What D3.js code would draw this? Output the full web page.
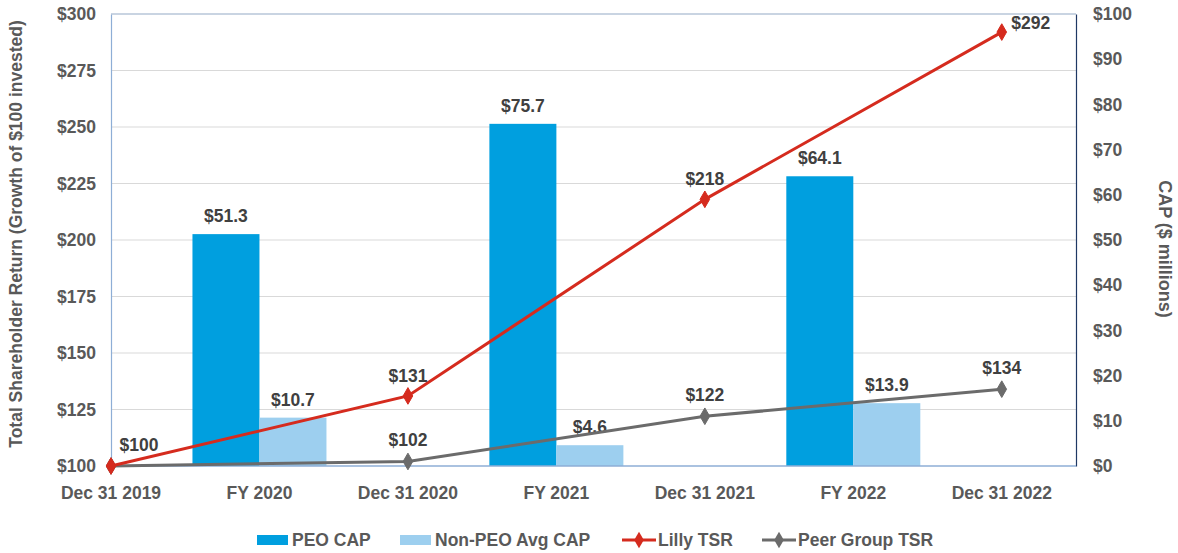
<!DOCTYPE html>
<html>
<head>
<meta charset="utf-8">
<script src="https://cdn.jsdelivr.net/npm/d3@7"></script>
<style>
  html, body { margin: 0; padding: 0; background: #fff; }
  svg { display: block; font-family: "Liberation Sans", Arial, sans-serif; }
</style>
</head>
<body>
<svg id="chart" width="1178" height="553"></svg>
<script>
// Category labels along the x axis (period-end dates alternate with fiscal years)
const categories = ["Dec 31 2019", "FY 2020", "Dec 31 2020", "FY 2021", "Dec 31 2021", "FY 2022", "Dec 31 2022"];

// Compensation actually paid, $ millions (plotted on right axis, at fiscal-year slots)
const capYears = ["FY 2020", "FY 2021", "FY 2022"];
const peoCap = [51.3, 75.7, 64.1];
const nonPeoCap = [10.7, 4.6, 13.9];

// Total shareholder return, growth of $100 (plotted on left axis, at year-end slots)
const tsrDates = ["Dec 31 2019", "Dec 31 2020", "Dec 31 2021", "Dec 31 2022"];
const lillyTsr = [100, 131, 218, 292];
const peerTsr = [100, 102, 122, 134];

const leftTicks = [100, 125, 150, 175, 200, 225, 250, 275, 300];
const rightTicks = [0, 10, 20, 30, 40, 50, 60, 70, 80, 90, 100];

const colors = {
  peo: "#009fdf",
  nonPeo: "#9dcfef",
  lilly: "#d52b1e",
  peer: "#6b6b6b",
  text: "#595959",
  label: "#404040"
};
const FS = 17.5;

const svg = d3.select("#chart");
const plot = { left: 111, right: 1076, top: 14, bottom: 466 };

const x = d3.scaleLinear()
  .domain([0, 6.5])
  .range([plot.left, plot.right]);
const xi = name => x(categories.indexOf(name));

const yL = d3.scaleLinear().domain([100, 300]).range([plot.bottom, plot.top]);
const yR = d3.scaleLinear().domain([0, 100]).range([plot.bottom, plot.top]);

// gridlines
svg.append("g")
  .selectAll("line")
  .data(leftTicks.slice(1))
  .join("line")
  .attr("x1", plot.left).attr("x2", plot.right)
  .attr("y1", d => yL(d)).attr("y2", d => yL(d))
  .attr("stroke", "#d9d9d9").attr("stroke-width", 1);

// left axis
const leftAxis = svg.append("g")
  .attr("transform", `translate(${plot.left},0)`)
  .call(d3.axisLeft(yL).tickValues(leftTicks).tickSize(0).tickPadding(15).tickFormat(d => "$" + d));
leftAxis.select(".domain").attr("stroke", "#8eaed6").attr("stroke-width", 1.2);
leftAxis.selectAll("text")
  .attr("fill", colors.text).attr("font-size", FS).attr("font-weight", "bold")
  .attr("font-family", "Liberation Sans, Arial, sans-serif");

// right axis
const rightAxis = svg.append("g")
  .attr("transform", `translate(${plot.right},0)`)
  .call(d3.axisRight(yR).tickValues(rightTicks).tickSize(0).tickPadding(17).tickFormat(d => "$" + d));
rightAxis.select(".domain").attr("stroke", "#1f3864").attr("stroke-width", 1.2);
rightAxis.selectAll("text")
  .attr("fill", colors.text).attr("font-size", FS).attr("font-weight", "bold")
  .attr("font-family", "Liberation Sans, Arial, sans-serif");

// top border
svg.append("line")
  .attr("x1", plot.left).attr("x2", plot.right)
  .attr("y1", plot.top).attr("y2", plot.top)
  .attr("stroke", "#a6bcd8").attr("stroke-width", 1.2);

// bars
const barW = 67;
const bars = svg.append("g");
bars.selectAll("rect.peo")
  .data(capYears)
  .join("rect")
  .attr("class", "peo")
  .attr("x", d => xi(d) - barW)
  .attr("width", barW)
  .attr("y", (d, i) => yR(peoCap[i]))
  .attr("height", (d, i) => yR(0) - yR(peoCap[i]))
  .attr("fill", colors.peo);
bars.selectAll("rect.nonpeo")
  .data(capYears)
  .join("rect")
  .attr("class", "nonpeo")
  .attr("x", d => xi(d))
  .attr("width", barW)
  .attr("y", (d, i) => yR(nonPeoCap[i]))
  .attr("height", (d, i) => yR(0) - yR(nonPeoCap[i]))
  .attr("fill", colors.nonPeo);

// bottom axis line
svg.append("line")
  .attr("x1", plot.left).attr("x2", plot.right)
  .attr("y1", plot.bottom).attr("y2", plot.bottom)
  .attr("stroke", "#8eaed6").attr("stroke-width", 1.5);

// bar labels
const labelStyle = sel => sel
  .attr("fill", colors.label).attr("font-size", FS).attr("font-weight", "bold")
  .attr("text-anchor", "middle");
svg.append("g").selectAll("text")
  .data(capYears)
  .join("text")
  .attr("x", d => xi(d) - barW / 2)
  .attr("y", (d, i) => yR(peoCap[i]) - 12)
  .text((d, i) => "$" + peoCap[i].toFixed(1))
  .call(labelStyle);
svg.append("g").selectAll("text")
  .data(capYears)
  .join("text")
  .attr("x", d => xi(d) + barW / 2)
  .attr("y", (d, i) => yR(nonPeoCap[i]) - 12)
  .text((d, i) => "$" + nonPeoCap[i].toFixed(1))
  .call(labelStyle);

// TSR lines
const line = vals => d3.line()
  .x((d, i) => xi(tsrDates[i]))
  .y(d => yL(d))(vals);

function drawSeries(vals, color) {
  svg.append("path")
    .attr("d", line(vals))
    .attr("fill", "none")
    .attr("stroke", color)
    .attr("stroke-width", 3);
  svg.append("g").selectAll("path")
    .data(vals)
    .join("path")
    .attr("d", d3.symbol(d3.symbolDiamond, 80))
    .attr("transform", (d, i) => `translate(${xi(tsrDates[i])},${yL(d)})`)
    .attr("fill", color)
    .attr("stroke", color).attr("stroke-width", 1).attr("stroke-linejoin", "round");
}
drawSeries(peerTsr, colors.peer);
drawSeries(lillyTsr, colors.lilly);

// TSR labels
const tsrLabels = svg.append("g");
// first point shares one label for both series
tsrLabels.append("text")
  .attr("x", xi(tsrDates[0]) + 28).attr("y", yL(lillyTsr[0]) - 15)
  .text("$" + lillyTsr[0]).call(labelStyle);
lillyTsr.forEach((v, i) => {
  if (i === 0) return;
  const last = i === lillyTsr.length - 1;
  tsrLabels.append("text")
    .attr("x", xi(tsrDates[i]) + (last ? 29 : 0))
    .attr("y", yL(v) - (last ? 3 : 14))
    .text("$" + v).call(labelStyle);
});
peerTsr.forEach((v, i) => {
  if (i === 0) return;
  tsrLabels.append("text")
    .attr("x", xi(tsrDates[i]))
    .attr("y", yL(v) - 15)
    .text("$" + v).call(labelStyle);
});

// category labels
svg.append("g").selectAll("text")
  .data(categories)
  .join("text")
  .attr("x", (d, i) => x(i))
  .attr("y", plot.bottom + 33)
  .attr("text-anchor", "middle")
  .attr("fill", colors.text).attr("font-size", FS).attr("font-weight", "bold")
  .text(d => d);

// axis titles
svg.append("text")
  .attr("transform", `translate(22,234) rotate(-90)`)
  .attr("text-anchor", "middle")
  .attr("fill", colors.text).attr("font-size", FS).attr("font-weight", "bold")
  .text("Total Shareholder Return (Growth of $100 invested)");
svg.append("text")
  .attr("transform", `translate(1159,249) rotate(90)`)
  .attr("text-anchor", "middle")
  .attr("fill", colors.text).attr("font-size", 18).attr("font-weight", "bold")
  .text("CAP ($ millions)");

// legend
const legendItems = [
  { name: "PEO CAP", type: "bar", color: colors.peo, x: 257 },
  { name: "Non-PEO Avg CAP", type: "bar", color: colors.nonPeo, x: 400 },
  { name: "Lilly TSR", type: "line", color: colors.lilly, x: 622 },
  { name: "Peer Group TSR", type: "line", color: colors.peer, x: 762 }
];
const ly = 540;
const leg = svg.append("g").selectAll("g")
  .data(legendItems)
  .join("g")
  .attr("transform", d => `translate(${d.x},${ly})`);
leg.filter(d => d.type === "bar").append("rect")
  .attr("x", 0).attr("y", -5).attr("width", 31).attr("height", 10)
  .attr("fill", d => d.color);
leg.filter(d => d.type === "line").append("line")
  .attr("x1", 0).attr("x2", 34).attr("y1", 0).attr("y2", 0)
  .attr("stroke", d => d.color).attr("stroke-width", 3);
leg.filter(d => d.type === "line").append("path")
  .attr("d", d3.symbol(d3.symbolDiamond, 80))
  .attr("transform", "translate(17,0)")
  .attr("fill", d => d.color);
leg.append("text")
  .attr("x", d => d.type === "bar" ? 35 : 36)
  .attr("y", 6)
  .attr("fill", colors.text).attr("font-size", FS).attr("font-weight", "bold")
  .text(d => d.name);
</script>
</body>
</html>
